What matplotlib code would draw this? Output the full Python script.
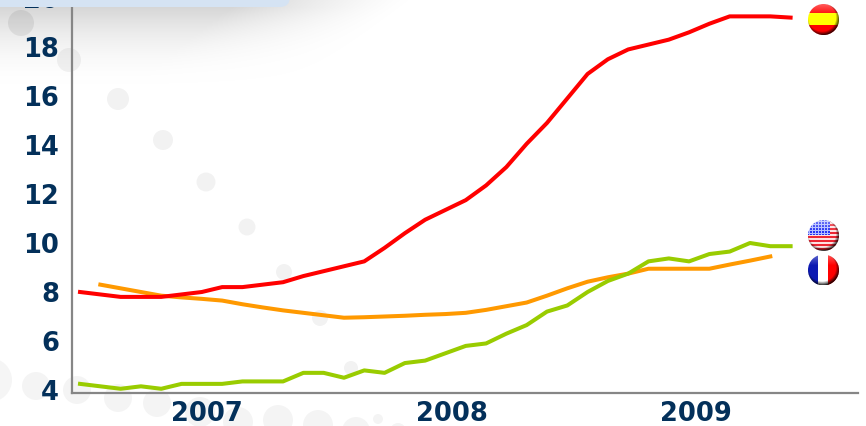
import matplotlib
matplotlib.use("Agg")
import matplotlib.pyplot as plt
import numpy as np
from matplotlib.patches import Circle, FancyBboxPatch

W, H = 866, 426

# monthly values
spain = [8.0, 7.9, 7.8, 7.8, 7.8, 7.9, 8.0, 8.2, 8.2, 8.3, 8.4, 8.65, 8.85, 9.05,
         9.25, 9.8, 10.4, 10.95, 11.35, 11.75, 12.35, 13.1, 14.05, 14.9, 15.9, 16.9,
         17.5, 17.9, 18.1, 18.3, 18.6, 18.95, 19.25, 19.25, 19.25, 19.2]
usa = [4.25, 4.15, 4.05, 4.15, 4.05, 4.25, 4.25, 4.25, 4.35, 4.35, 4.35, 4.7, 4.7,
       4.5, 4.8, 4.7, 5.1, 5.2, 5.5, 5.8, 5.9, 6.3, 6.65, 7.2, 7.45, 8.0, 8.45, 8.75,
       9.25, 9.37, 9.25, 9.55, 9.65, 10.0, 9.87, 9.87]
france = [8.3, 8.15, 8.0, 7.85, 7.78, 7.72, 7.65, 7.5, 7.37, 7.25, 7.15, 7.05, 6.95,
          6.97, 7.0, 7.03, 7.07, 7.1, 7.15, 7.27, 7.42, 7.57, 7.85, 8.15, 8.42, 8.6,
          8.75, 8.95, 8.95, 8.95, 8.95, 9.12, 9.28, 9.45]
months = list(range(36))
france_months = list(range(1, 35))

y_ticks = [4, 6, 8, 10, 12, 14, 16, 18, 20]
year_pos = [6.25, 18.3, 30.35]
year_labels = ["2007", "2008", "2009"]

NAVY = "#03305a"
GREY = "#868686"

fig = plt.figure(figsize=(W / 100, H / 100), dpi=100, facecolor="white")

# background layer in pixel coordinates
bg = fig.add_axes([0, 0, 1, 1], zorder=0)
bg.axis("off")

yy, xx = np.mgrid[0:100, 0:420]
shade = np.clip(1 - (yy - 7) / 82, 0, 1) ** 2 * np.clip((410 - xx - yy * 1.3) / 170, 0, 1) ** 1.3
grad = np.ones((100, 420, 4))
grad[..., :3] = 0.84
grad[..., 3] = shade
bg.imshow(grad, extent=(0, 420, 100, 0), aspect="auto", zorder=1, interpolation="bilinear")

dots = [(21, 23, 13, 0.07), (69, 60, 12, 0.05), (118, 99, 11, 0.05), (163, 140, 10, 0.05),
        (206, 182, 9.5, 0.05), (247, 227, 8.5, 0.05), (284, 272, 8, 0.05), (320, 318, 8, 0.05),
        (351, 368, 7, 0.05), (-10, 380, 22, 0.04), (36, 386, 14, 0.045), (77, 390, 14, 0.045),
        (118, 398, 14, 0.045), (157, 403, 14, 0.045), (200, 412, 15, 0.045), (238, 422, 15, 0.045),
        (278, 420, 15, 0.045), (318, 425, 15, 0.045), (356, 431, 14, 0.045), (378, 419, 5, 0.045),
        (398, 431, 8, 0.045)]
for dx, dy, r, a in dots:
    bg.add_patch(Circle((dx, dy), r, fc="black", alpha=a, ec="none", zorder=3))

# chart axes: top runs past the figure edge so the clipped 20 label still exists
top_px = -20
ax = fig.add_axes([71.5 / W, (H - 392.7) / H, (858 - 71.5) / W, (392.7 - top_px) / H], zorder=1)
ax.patch.set_alpha(0)
ax.set_xlim(-0.42, 38.32)
ax.set_ylim(4 + (390 - 392.7) / 24.5, 4 + (390 - top_px) / 24.5)

ax.plot(france_months, france, color="#ff9900", lw=2.9, solid_joinstyle="round", zorder=3)
ax.plot(months, usa, color="#99cc00", lw=2.9, solid_joinstyle="round", zorder=3)
ax.plot(months, spain, color="#ff0000", lw=2.9, solid_joinstyle="round", zorder=4)

ax.set_yticks(y_ticks)
ax.set_xticks(year_pos)
ax.set_xticklabels(year_labels)
ax.tick_params(length=0, labelsize=18.5, labelcolor=NAVY)
ax.tick_params(axis="x", pad=6)
ax.tick_params(axis="y", pad=9)
for lab in ax.get_xticklabels() + ax.get_yticklabels():
    lab.set_fontweight("bold")
    lab.set_fontfamily("DejaVu Sans")

ax.spines["top"].set_visible(False)
ax.spines["right"].set_visible(False)
for side in ["left", "bottom"]:
    ax.spines[side].set_color(GREY)
    ax.spines[side].set_linewidth(1.6)
ax.spines["left"].set_bounds(4 + (390 - 392.7) / 24.5, 4 + (390 - 7) / 24.5)

# top layer: header band sits over the 20 label, flags over everything
fg = fig.add_axes([0, 0, 1, 1], zorder=2)
fg.axis("off")
fg.add_patch(FancyBboxPatch((-30, -30), 320, 37, boxstyle="round,pad=0,rounding_size=10",
                            fc="#d5e3f3", ec="none", zorder=2))


def flag(cx, cy, img, r=15.5):
    # round glossy flag button
    n = img.shape[0]
    v, u = np.mgrid[0:n, 0:n]
    sheen = np.clip(1 - v / (n * 0.35), 0, 1)[..., None] * 0.35
    img = img * (1 - sheen) + sheen
    box = (cx - r, cx + r, cy + r, cy - r)
    im = fg.imshow(img, extent=box, aspect="auto", zorder=6, interpolation="bilinear")
    im.set_clip_path(Circle((cx, cy), r, transform=fg.transData))
    dist = np.hypot((u - n * 0.44) / (n / 2), (v - n * 0.42) / (n / 2))
    rim = np.zeros((n, n, 4))
    rim[..., 3] = np.clip((dist - 0.88) / 0.3, 0, 0.9)
    im2 = fg.imshow(rim, extent=box, aspect="auto", zorder=7, interpolation="bilinear")
    im2.set_clip_path(Circle((cx, cy), r, transform=fg.transData))


n = 31
es = np.zeros((n, n, 3))
es[:] = (1, 0, 0)
es[9:21] = (1, 1, 0)

us = np.ones((n, n, 3))
for i in range(n):
    us[i] = (0.93, 0.15, 0.2) if (i // 2) % 2 == 0 else (1, 0.88, 0.88)
us[:15, :22] = (0.15, 0.2, 0.95)
us[1:15:3, :22] = (0.7, 0.74, 1)
us[:15, 1:22:3] = (0.7, 0.74, 1)

fr = np.ones((n, n, 3))
fr[:, :10] = (0.05, 0.1, 0.7)
fr[:, 20:] = (1, 0, 0)

flag(823.5, 19.5, es)
flag(823.5, 235.5, us)
flag(823.5, 270, fr)

for a in (bg, fg):
    a.set_xlim(0, W)
    a.set_ylim(H, 0)

fig.savefig("out.png", dpi=100)
